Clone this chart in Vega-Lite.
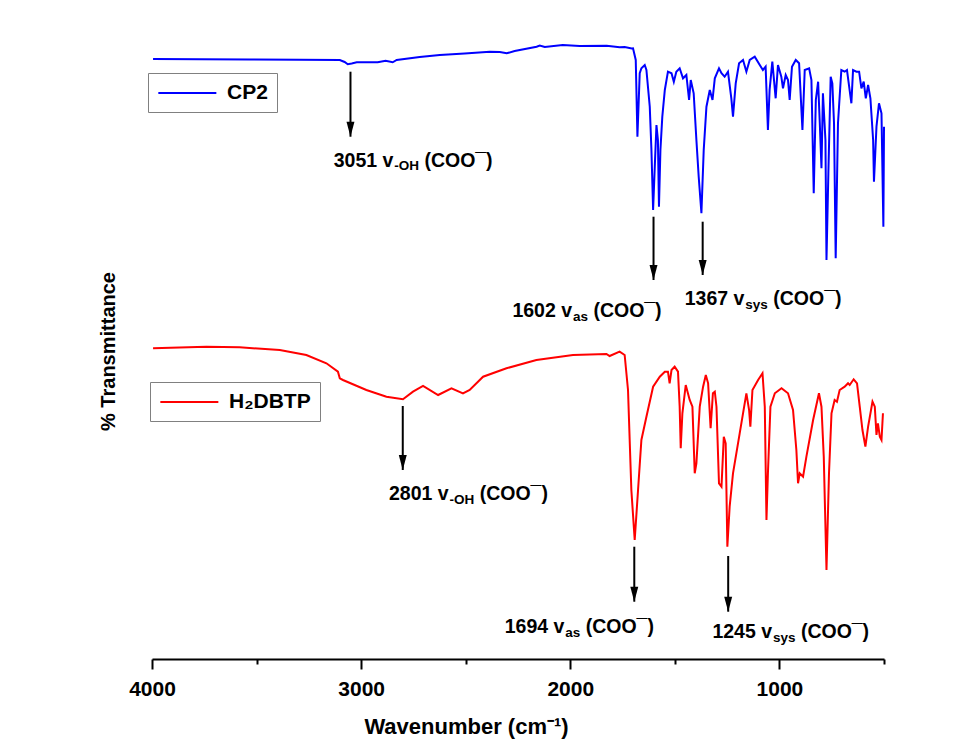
{
"$schema":"https://vega.github.io/schema/vega-lite/v6.json",
"width":732,"height":629,"autosize":"none",
"padding":{"left":152,"top":30,"right":82,"bottom":81},
"background":"white",
"config":{"view":{"stroke":null},"font":"Liberation Sans","axis":{"grid":false}},
"datasets":{
"blue":[{"s":"CP2","wn":3995,"t":600},{"s":"CP2","wn":3772,"t":599.7},{"s":"CP2","wn":3533,"t":599.5},{"s":"CP2","wn":3294,"t":599.3},{"s":"CP2","wn":3102,"t":599},{"s":"CP2","wn":3079,"t":597},{"s":"CP2","wn":3064,"t":594.7},{"s":"CP2","wn":3045,"t":595.5},{"s":"CP2","wn":3021,"t":596.7},{"s":"CP2","wn":2921,"t":596.7},{"s":"CP2","wn":2883,"t":598.3},{"s":"CP2","wn":2849,"t":596.7},{"s":"CP2","wn":2830,"t":599},{"s":"CP2","wn":2720,"t":602},{"s":"CP2","wn":2624,"t":604},{"s":"CP2","wn":2505,"t":605.5},{"s":"CP2","wn":2385,"t":607.3},{"s":"CP2","wn":2337,"t":607},{"s":"CP2","wn":2304,"t":605.7},{"s":"CP2","wn":2266,"t":608},{"s":"CP2","wn":2161,"t":612.3},{"s":"CP2","wn":2146,"t":613.5},{"s":"CP2","wn":2122,"t":612},{"s":"CP2","wn":2036,"t":614},{"s":"CP2","wn":1955,"t":613},{"s":"CP2","wn":1826,"t":613.3},{"s":"CP2","wn":1764,"t":611.7},{"s":"CP2","wn":1740,"t":612},{"s":"CP2","wn":1706,"t":610.5},{"s":"CP2","wn":1700,"t":610.7},{"s":"CP2","wn":1687,"t":599},{"s":"CP2","wn":1679,"t":522.3},{"s":"CP2","wn":1668,"t":585.7},{"s":"CP2","wn":1660,"t":590.7},{"s":"CP2","wn":1644,"t":594},{"s":"CP2","wn":1636,"t":589},{"s":"CP2","wn":1620,"t":552.3},{"s":"CP2","wn":1612,"t":509},{"s":"CP2","wn":1604,"t":449},{"s":"CP2","wn":1596,"t":492.3},{"s":"CP2","wn":1588,"t":534},{"s":"CP2","wn":1581,"t":519},{"s":"CP2","wn":1576,"t":452.3},{"s":"CP2","wn":1569,"t":509},{"s":"CP2","wn":1560,"t":542.3},{"s":"CP2","wn":1548,"t":569},{"s":"CP2","wn":1533,"t":587.3},{"s":"CP2","wn":1516,"t":585.7},{"s":"CP2","wn":1505,"t":577.3},{"s":"CP2","wn":1493,"t":587.3},{"s":"CP2","wn":1477,"t":590.7},{"s":"CP2","wn":1461,"t":580.7},{"s":"CP2","wn":1445,"t":584},{"s":"CP2","wn":1432,"t":559},{"s":"CP2","wn":1424,"t":579},{"s":"CP2","wn":1410,"t":565.7},{"s":"CP2","wn":1397,"t":519},{"s":"CP2","wn":1386,"t":482.3},{"s":"CP2","wn":1373,"t":445.7},{"s":"CP2","wn":1362,"t":509},{"s":"CP2","wn":1349,"t":552.3},{"s":"CP2","wn":1333,"t":569},{"s":"CP2","wn":1320,"t":559},{"s":"CP2","wn":1309,"t":580.7},{"s":"CP2","wn":1289,"t":590.7},{"s":"CP2","wn":1277,"t":585.7},{"s":"CP2","wn":1262,"t":582.3},{"s":"CP2","wn":1246,"t":587.3},{"s":"CP2","wn":1230,"t":560.7},{"s":"CP2","wn":1222,"t":542.3},{"s":"CP2","wn":1209,"t":575.7},{"s":"CP2","wn":1193,"t":595.7},{"s":"CP2","wn":1174,"t":599},{"s":"CP2","wn":1158,"t":587.3},{"s":"CP2","wn":1142,"t":599},{"s":"CP2","wn":1118,"t":602.3},{"s":"CP2","wn":1094,"t":594},{"s":"CP2","wn":1079,"t":589},{"s":"CP2","wn":1066,"t":592.3},{"s":"CP2","wn":1055,"t":529},{"s":"CP2","wn":1047,"t":569},{"s":"CP2","wn":1034,"t":597.3},{"s":"CP2","wn":1018,"t":560.7},{"s":"CP2","wn":1007,"t":594},{"s":"CP2","wn":991,"t":582.3},{"s":"CP2","wn":983,"t":570.7},{"s":"CP2","wn":970,"t":584},{"s":"CP2","wn":959,"t":579},{"s":"CP2","wn":951,"t":559},{"s":"CP2","wn":940,"t":592.3},{"s":"CP2","wn":922,"t":599},{"s":"CP2","wn":906,"t":595.7},{"s":"CP2","wn":890,"t":529},{"s":"CP2","wn":879,"t":589},{"s":"CP2","wn":858,"t":590.7},{"s":"CP2","wn":847,"t":579},{"s":"CP2","wn":836,"t":465.7},{"s":"CP2","wn":826,"t":559},{"s":"CP2","wn":815,"t":577.3},{"s":"CP2","wn":807,"t":535.7},{"s":"CP2","wn":799,"t":490.7},{"s":"CP2","wn":792,"t":565.7},{"s":"CP2","wn":780,"t":519},{"s":"CP2","wn":775,"t":399},{"s":"CP2","wn":766,"t":485.7},{"s":"CP2","wn":755,"t":582.3},{"s":"CP2","wn":747,"t":575.7},{"s":"CP2","wn":739,"t":535.7},{"s":"CP2","wn":731,"t":400.7},{"s":"CP2","wn":720,"t":535.7},{"s":"CP2","wn":704,"t":589},{"s":"CP2","wn":688,"t":587.3},{"s":"CP2","wn":677,"t":589},{"s":"CP2","wn":656,"t":555.7},{"s":"CP2","wn":648,"t":589},{"s":"CP2","wn":632,"t":587.3},{"s":"CP2","wn":619,"t":587.3},{"s":"CP2","wn":608,"t":570.7},{"s":"CP2","wn":597,"t":577.3},{"s":"CP2","wn":587,"t":560.7},{"s":"CP2","wn":576,"t":574},{"s":"CP2","wn":565,"t":560.7},{"s":"CP2","wn":552,"t":519},{"s":"CP2","wn":548,"t":477.3},{"s":"CP2","wn":536,"t":532.3},{"s":"CP2","wn":524,"t":555.7},{"s":"CP2","wn":512,"t":545.7},{"s":"CP2","wn":503,"t":432.3},{"s":"CP2","wn":500,"t":532.3}],
"red":[{"s":"H₂DBTP","wn":3995,"t":310.7},{"s":"H₂DBTP","wn":3868,"t":311.5},{"s":"H₂DBTP","wn":3740,"t":312.3},{"s":"H₂DBTP","wn":3581,"t":311.7},{"s":"H₂DBTP","wn":3389,"t":309},{"s":"H₂DBTP","wn":3262,"t":304},{"s":"H₂DBTP","wn":3166,"t":295.7},{"s":"H₂DBTP","wn":3111,"t":287.3},{"s":"H₂DBTP","wn":3102,"t":280.7},{"s":"H₂DBTP","wn":3087,"t":279},{"s":"H₂DBTP","wn":2975,"t":269},{"s":"H₂DBTP","wn":2879,"t":262.3},{"s":"H₂DBTP","wn":2800,"t":259.7},{"s":"H₂DBTP","wn":2752,"t":267.3},{"s":"H₂DBTP","wn":2704,"t":273},{"s":"H₂DBTP","wn":2632,"t":264},{"s":"H₂DBTP","wn":2568,"t":270.7},{"s":"H₂DBTP","wn":2513,"t":265.7},{"s":"H₂DBTP","wn":2481,"t":269},{"s":"H₂DBTP","wn":2417,"t":282.3},{"s":"H₂DBTP","wn":2305,"t":290.7},{"s":"H₂DBTP","wn":2162,"t":299},{"s":"H₂DBTP","wn":1987,"t":304},{"s":"H₂DBTP","wn":1827,"t":305},{"s":"H₂DBTP","wn":1812,"t":303},{"s":"H₂DBTP","wn":1764,"t":307.3},{"s":"H₂DBTP","wn":1740,"t":304},{"s":"H₂DBTP","wn":1724,"t":269},{"s":"H₂DBTP","wn":1708,"t":169},{"s":"H₂DBTP","wn":1692,"t":119},{"s":"H₂DBTP","wn":1676,"t":169},{"s":"H₂DBTP","wn":1660,"t":219},{"s":"H₂DBTP","wn":1636,"t":242.3},{"s":"H₂DBTP","wn":1604,"t":272.3},{"s":"H₂DBTP","wn":1572,"t":282.3},{"s":"H₂DBTP","wn":1548,"t":287.3},{"s":"H₂DBTP","wn":1533,"t":287.3},{"s":"H₂DBTP","wn":1525,"t":275.7},{"s":"H₂DBTP","wn":1516,"t":289},{"s":"H₂DBTP","wn":1501,"t":292.3},{"s":"H₂DBTP","wn":1485,"t":287.3},{"s":"H₂DBTP","wn":1477,"t":252.3},{"s":"H₂DBTP","wn":1472,"t":210.7},{"s":"H₂DBTP","wn":1464,"t":245.7},{"s":"H₂DBTP","wn":1448,"t":274},{"s":"H₂DBTP","wn":1429,"t":259},{"s":"H₂DBTP","wn":1416,"t":252.3},{"s":"H₂DBTP","wn":1405,"t":185.7},{"s":"H₂DBTP","wn":1397,"t":195.7},{"s":"H₂DBTP","wn":1381,"t":252.3},{"s":"H₂DBTP","wn":1365,"t":272.3},{"s":"H₂DBTP","wn":1352,"t":284},{"s":"H₂DBTP","wn":1341,"t":275.7},{"s":"H₂DBTP","wn":1329,"t":230.7},{"s":"H₂DBTP","wn":1318,"t":265.7},{"s":"H₂DBTP","wn":1309,"t":267.3},{"s":"H₂DBTP","wn":1301,"t":252.3},{"s":"H₂DBTP","wn":1289,"t":175.7},{"s":"H₂DBTP","wn":1277,"t":172.3},{"s":"H₂DBTP","wn":1266,"t":222.3},{"s":"H₂DBTP","wn":1257,"t":215.7},{"s":"H₂DBTP","wn":1249,"t":112.3},{"s":"H₂DBTP","wn":1238,"t":152.3},{"s":"H₂DBTP","wn":1222,"t":185.7},{"s":"H₂DBTP","wn":1190,"t":225.7},{"s":"H₂DBTP","wn":1158,"t":265.7},{"s":"H₂DBTP","wn":1145,"t":249},{"s":"H₂DBTP","wn":1139,"t":232.3},{"s":"H₂DBTP","wn":1129,"t":269},{"s":"H₂DBTP","wn":1102,"t":279},{"s":"H₂DBTP","wn":1081,"t":285.7},{"s":"H₂DBTP","wn":1070,"t":252.3},{"s":"H₂DBTP","wn":1062,"t":139},{"s":"H₂DBTP","wn":1055,"t":185.7},{"s":"H₂DBTP","wn":1043,"t":252.3},{"s":"H₂DBTP","wn":1022,"t":265.7},{"s":"H₂DBTP","wn":990,"t":270.7},{"s":"H₂DBTP","wn":959,"t":265.7},{"s":"H₂DBTP","wn":935,"t":249},{"s":"H₂DBTP","wn":919,"t":209},{"s":"H₂DBTP","wn":911,"t":175.7},{"s":"H₂DBTP","wn":903,"t":185.7},{"s":"H₂DBTP","wn":887,"t":182.3},{"s":"H₂DBTP","wn":871,"t":202.3},{"s":"H₂DBTP","wn":839,"t":239},{"s":"H₂DBTP","wn":811,"t":265.7},{"s":"H₂DBTP","wn":799,"t":252.3},{"s":"H₂DBTP","wn":788,"t":202.3},{"s":"H₂DBTP","wn":775,"t":89},{"s":"H₂DBTP","wn":763,"t":185.7},{"s":"H₂DBTP","wn":751,"t":245.7},{"s":"H₂DBTP","wn":736,"t":259},{"s":"H₂DBTP","wn":725,"t":257.3},{"s":"H₂DBTP","wn":712,"t":269},{"s":"H₂DBTP","wn":688,"t":272.3},{"s":"H₂DBTP","wn":672,"t":275.7},{"s":"H₂DBTP","wn":664,"t":274},{"s":"H₂DBTP","wn":645,"t":279.7},{"s":"H₂DBTP","wn":629,"t":275.7},{"s":"H₂DBTP","wn":616,"t":252.3},{"s":"H₂DBTP","wn":603,"t":229},{"s":"H₂DBTP","wn":589,"t":212.3},{"s":"H₂DBTP","wn":576,"t":232.3},{"s":"H₂DBTP","wn":555,"t":257.3},{"s":"H₂DBTP","wn":544,"t":252.3},{"s":"H₂DBTP","wn":536,"t":224},{"s":"H₂DBTP","wn":529,"t":235.7},{"s":"H₂DBTP","wn":520,"t":222.3},{"s":"H₂DBTP","wn":512,"t":219},{"s":"H₂DBTP","wn":505,"t":245.7}],
"arrows":[{"wn":3051,"t":587.3,"t2":522.3},{"wn":1602,"t":442.3,"t2":379},{"wn":1367,"t":437.3,"t2":384},{"wn":2801,"t":253,"t2":189},{"wn":1694,"t":112.3,"t2":57.3},{"wn":1245,"t":103,"t2":47.3}],
"labels":[
{"wn":3131.2,"t":492.3,"txt":"3051 v","part":"main"},{"wn":2841.4,"t":488.8,"txt":"-OH","part":"sub"},{"wn":2697.5,"t":492.3,"txt":"(COO¯)","part":"main"},
{"wn":2276.7,"t":341.7,"txt":"1602 v","part":"main"},{"wn":1987.0,"t":338.2,"txt":"as","part":"sub"},{"wn":1889.4,"t":341.7,"txt":"(COO¯)","part":"main"},
{"wn":1452.9,"t":354,"txt":"1367 v","part":"main"},{"wn":1163.1,"t":350.5,"txt":"sys","part":"sub"},{"wn":1029.7,"t":354,"txt":"(COO¯)","part":"main"},
{"wn":2866.8,"t":159,"txt":"2801 v","part":"main"},{"wn":2577.0,"t":155.5,"txt":"-OH","part":"sub"},{"wn":2433.1,"t":159,"txt":"(COO¯)","part":"main"},
{"wn":2313.6,"t":25.7,"txt":"1694 v","part":"main"},{"wn":2023.8,"t":22.2,"txt":"as","part":"sub"},{"wn":1926.3,"t":25.7,"txt":"(COO¯)","part":"main"},
{"wn":1320.4,"t":20.7,"txt":"1245 v","part":"main"},{"wn":1030.7,"t":17.2,"txt":"sys","part":"sub"},{"wn":897.3,"t":20.7,"txt":"(COO¯)","part":"main"}]
},
"encoding":{
"x":{"field":"wn","type":"quantitative","scale":{"domain":[500,4000],"reverse":true,"nice":false,"zero":false},
 "axis":{"title":"Wavenumber (cm⁻¹)","values":[4000,3500,3000,2500,2000,1500,1000,500],"format":"d",
  "labelExpr":"datum.value % 1000 === 0 ? datum.label : ''",
  "tickSize":{"condition":{"test":"datum.value % 1000 === 0","value":10},"value":5},
  "domainColor":"black","domainWidth":2,"tickColor":"black","tickWidth":2,
  "labelFont":"Liberation Sans","labelFontSize":21,"labelFontWeight":"bold","labelColor":"black","labelPadding":9,
  "titleFont":"Liberation Sans","titleFontSize":22,"titleFontWeight":"bold","titleColor":"black",
  "titleAlign":"center","titleAnchor":null,"titleX":314,"titleY":74,"titleBaseline":"alphabetic","labelFlush":false,"labelOverlap":false}},
"y":{"field":"t","type":"quantitative","scale":{"domain":[0,629],"nice":false,"zero":false},
 "axis":{"title":"% Transmittance","domain":false,"ticks":false,"labels":false,
  "titleFont":"Liberation Sans","titleFontSize":20,"titleFontWeight":"bold","titleColor":"black",
  "titleAngle":270,"titleAlign":"center","titleBaseline":"alphabetic","titleX":-38,"titleY":321}}
},
"layer":[
{"data":{"name":"blue"},"mark":{"type":"line","strokeWidth":2,"interpolate":"linear"},
 "encoding":{"color":{"field":"s","type":"nominal","scale":{"domain":["CP2"],"range":["#0000ff"]},
  "legend":{"orient":"none","legendX":-4,"legendY":43,"title":null,"symbolType":"M-1,0L5,0","symbolSize":374,"symbolStrokeWidth":2,
   "labelFont":"Liberation Sans","labelFontSize":21,"labelFontWeight":"bold","labelColor":"black","labelOffset":48,"padding":9,"strokeColor":"#808080"}}}},
{"data":{"name":"red"},"mark":{"type":"line","strokeWidth":2,"interpolate":"linear"},
 "encoding":{"color":{"field":"s","type":"nominal","scale":{"domain":["H₂DBTP"],"range":["#ff0000"]},
  "legend":{"orient":"none","legendX":-2,"legendY":352,"title":null,"symbolType":"M-1,0L5,0","symbolSize":374,"symbolStrokeWidth":2,
   "labelFont":"Liberation Sans","labelFontSize":21,"labelFontWeight":"bold","labelColor":"black","labelOffset":48,"padding":9,"strokeColor":"#808080"}}}},
{"data":{"name":"arrows"},"mark":{"type":"rule","color":"black","strokeWidth":2},
 "encoding":{"y2":{"field":"t2"}}},
{"data":{"name":"arrows"},"mark":{"type":"point","shape":"M-0.53,-1L0.53,-1L0,1Z","size":225,"filled":true,"color":"black","opacity":1,"yOffset":-7.5},
 "encoding":{"y":{"field":"t2","type":"quantitative"}}},
{"data":{"name":"labels"},"transform":[{"filter":"datum.part === 'main'"}],
 "mark":{"type":"text","align":"left","baseline":"alphabetic","font":"Liberation Sans","fontSize":19.5,"fontWeight":"bold","color":"black"},
 "encoding":{"text":{"field":"txt"}}},
{"data":{"name":"labels"},"transform":[{"filter":"datum.part === 'sub'"}],
 "mark":{"type":"text","align":"left","baseline":"alphabetic","font":"Liberation Sans","fontSize":13.5,"fontWeight":"bold","color":"black"},
 "encoding":{"text":{"field":"txt"}}}
],
"resolve":{"scale":{"color":"independent"}}
}
